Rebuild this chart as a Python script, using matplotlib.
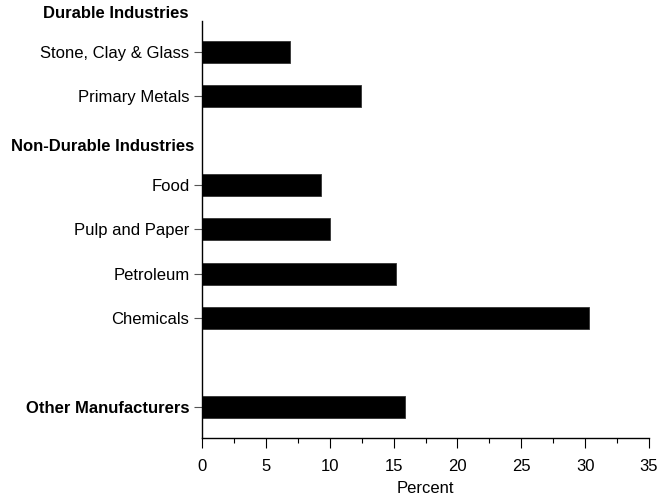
import numpy as np
import matplotlib
matplotlib.use("Agg")
import matplotlib.pyplot as plt
from matplotlib.ticker import MultipleLocator

plt.rcParams['font.family'] = ['Liberation Sans', 'DejaVu Sans']

# Rows top-to-bottom; headers and spacer have no value
rows = ["Durable Industries", "Stone, Clay & Glass", "Primary Metals",
        "Non-Durable Industries", "Food", "Pulp and Paper", "Petroleum",
        "Chemicals", "", "Other Manufacturers"]
values = [np.nan, 6.9, 12.45, np.nan, 9.3, 10.0, 15.2, 30.3, np.nan, 15.9]
headers = ["Durable Industries", "Non-Durable Industries"]
bold_ticks = ["Other Manufacturers"]
xticks = [0, 5, 10, 15, 20, 25, 30, 35]
xlabel = "Percent"

fig = plt.figure(figsize=(6.69, 5.01), dpi=100)
ax = fig.add_axes([202/669, 1-438/501, (649-202)/669, (438-21)/501])

pos = np.arange(len(rows))
vals = np.array(values, dtype=float)
mask = ~np.isnan(vals)
ax.barh(pos[mask], vals[mask], height=0.5, color='black', edgecolor='#333333', linewidth=0.6)

ax.set_ylim(9.7, 0.31)
ax.set_xlim(0, 35)
ax.set_xticks(xticks)
ax.xaxis.set_minor_locator(MultipleLocator(2.5))

tick_rows = [i for i, r in enumerate(rows) if mask[i]]
ax.set_yticks(pos[tick_rows])
ax.set_yticklabels([rows[i] for i in tick_rows], fontsize=12)
for lbl in ax.get_yticklabels():
    if lbl.get_text() in bold_ticks:
        lbl.set_fontweight('bold')

header_offsets = {"Durable Industries": -10, "Non-Durable Industries": -5.5}
for i, r in enumerate(rows):
    if r in headers:
        ax.annotate(r, xy=(0, pos[i]), xycoords=('axes fraction', 'data'),
                    xytext=(header_offsets[r], -4.5), textcoords='offset points',
                    ha='right', va='center', fontsize=12, fontweight='bold',
                    annotation_clip=False)

for s in ['top', 'right']:
    ax.spines[s].set_visible(False)
for s in ['left', 'bottom']:
    ax.spines[s].set_linewidth(1.0)

ax.tick_params(axis='x', which='major', length=7, width=0.8, pad=8, labelsize=12)
ax.tick_params(axis='x', which='minor', length=3.6, width=0.8)
ax.tick_params(axis='y', which='major', length=6, width=0.8, pad=3, colors='#555555', labelcolor='black')
ax.set_xlabel(xlabel, fontsize=12, labelpad=5)

fig.savefig("out.png", dpi=100)
